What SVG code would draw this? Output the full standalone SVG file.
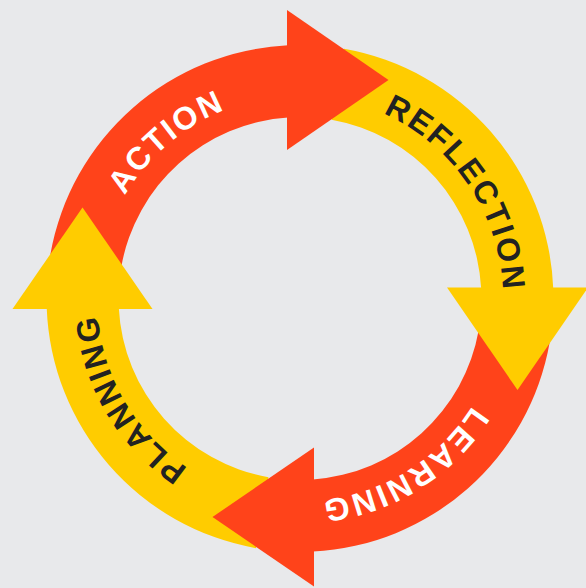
<svg xmlns="http://www.w3.org/2000/svg" xmlns:xlink="http://www.w3.org/1999/xlink" width="586" height="588" viewBox="0 0 586 588">
  <style>
    .red { fill: #FF431A; }
    .yellow { fill: #FFCC00; }
    .label { font-family: "Liberation Sans", Arial, sans-serif; font-weight: 700; font-size: 32px; letter-spacing: 2.2px; }
    .light { fill: #FFFFFF; }
    .dark { fill: #222222; }
  </style>
  <defs>
    <!-- clockwise text baseline circle, r = 203, starting at the top -->
    <path id="ring" d="M300,95.5 A203,203 0 1 1 300,501.5 A203,203 0 1 1 300,95.5"/>
  </defs>
  <rect width="586" height="588" fill="#E8E9EB"/>

  <!-- ring bands (outer r 253.5, inner r 181.5, centre 300,298.5) -->
  <g id="connectors">
    <path class="red" d="M50.35,254.48 A253.5,253.5 0 0 1 288,45.33 L288,117.47 A181.5,181.5 0 0 0 121.26,266.98 Z"/>
    <path class="yellow" d="M344.02,48.85 A253.5,253.5 0 0 1 553.26,288.5 L481.17,288.5 A181.5,181.5 0 0 0 331.52,119.76 Z"/>
    <path class="red" d="M549.65,342.52 A253.5,253.5 0 0 1 313,551.61 L313,479.46 A181.5,181.5 0 0 0 478.74,330.02 Z"/>
    <path class="yellow" d="M255.98,548.15 A253.5,253.5 0 0 1 46.72,308 L118.8,308 A181.5,181.5 0 0 0 268.48,477.24 Z"/>
  </g>

  <!-- arrow heads, drawn over the band ends -->
  <g id="action">
    <polygon class="red" points="287,10 388.5,80 287,150"/>
    <text class="label light"><textPath xlink:href="#ring" startOffset="1132" text-anchor="middle">ACTION</textPath></text>
  </g>
  <g id="reflection">
    <polygon class="yellow" points="447,287.5 588,287.5 517.5,390"/>
    <text class="label dark"><textPath xlink:href="#ring" startOffset="198.8" text-anchor="middle">REFLECTION</textPath></text>
  </g>
  <g id="learning">
    <polygon class="red" points="314,447.5 212.5,517 314,586.5"/>
    <text class="label light"><textPath xlink:href="#ring" startOffset="524.4" text-anchor="middle">LEARNING</textPath></text>
  </g>
  <g id="planning">
    <polygon class="yellow" points="12.5,309 82.5,207.5 152.5,309"/>
    <text class="label dark"><textPath xlink:href="#ring" startOffset="848.6" text-anchor="middle">PLANNING</textPath></text>
  </g>
</svg>
